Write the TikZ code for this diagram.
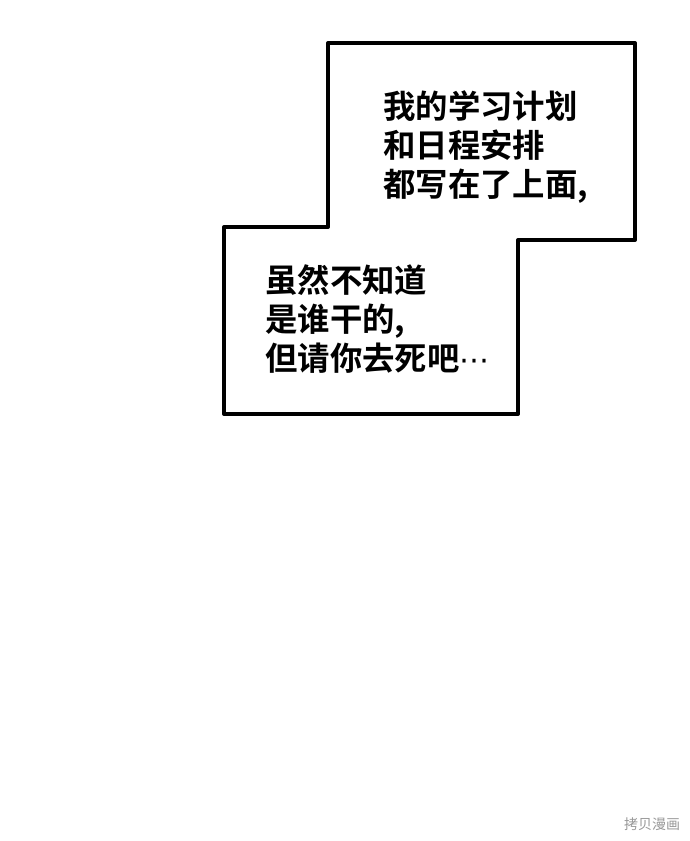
\documentclass[tikz,border=0pt]{standalone}
\usepackage{fontspec}
\newfontfamily\cjk{Noto Sans CJK SC}[BoldFont={Noto Sans CJK SC Bold}]
\newfontfamily\symfont{DejaVu Sans}
\tikzset{
  panel/.style={draw=black,fill=white,line width=4pt,line join=round},
  speech/.style={font=\cjk\bfseries\fontsize{32.4}{39}\selectfont,align=left,inner sep=0pt,anchor=north west,text=black},
  mark label/.style={font=\cjk\fontsize{14}{14}\selectfont,text=black!40,inner sep=0pt}
}
\begin{document}
\begin{tikzpicture}[x=1pt,y=-1pt]
\useasboundingbox (0,0) rectangle (690,841);
\fill[white] (0,0) rectangle (690,841);
\path[panel] (328,43) -- (635,43) -- (635,240) -- (518,240) -- (518,414) -- (224,414) -- (224,227) -- (328,227) -- cycle;
\node[speech] (top) at (383,90) {我的学习计划\\和日程安排\\都写在了上面,};
\node[speech] (bottom) at (265,264) {虽然不知道\\是谁干的,\\但请你去死吧{\symfont\mdseries\fontsize{30}{39}\selectfont ⋯}};
\node[mark label] (wm) at (652,824) {拷贝漫画};
\end{tikzpicture}
\end{document}
